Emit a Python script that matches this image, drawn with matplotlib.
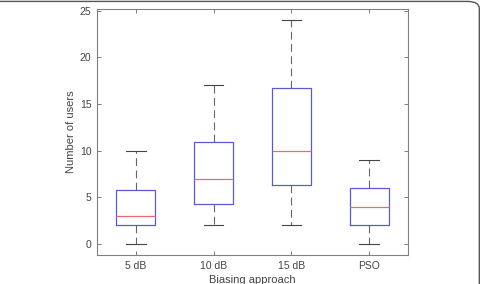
import matplotlib
matplotlib.use("Agg")
import matplotlib.pyplot as plt
from matplotlib.patches import FancyBboxPatch

plt.rcParams['font.family'] = ['Liberation Sans', 'DejaVu Sans']

categories = ['5 dB', '10 dB', '15 dB', 'PSO']
whisker_low = [0, 2, 2, 0]
q1 = [2, 4.27, 6.27, 2]
medians = [3, 7, 10, 4]
q3 = [5.75, 10.97, 16.7, 6]
whisker_high = [10, 17, 24, 9]

stats = []
for c, lo, a, m, b, hi in zip(categories, whisker_low, q1, medians, q3, whisker_high):
    stats.append(dict(label=c, whislo=lo, q1=a, med=m, q3=b, whishi=hi, fliers=[]))

fig = plt.figure(figsize=(4.81, 2.84), dpi=100)
ax = fig.add_axes([97/481, 29/284, 311/481, 246/284])

ax.bxp(stats, positions=range(1, len(stats) + 1), widths=0.5,
       boxprops=dict(color='#5a5ad2', linewidth=0.9),
       medianprops=dict(color='#f06a6a', linewidth=0.9),
       whiskerprops=dict(color='#666666', linewidth=0.8, linestyle=(0, (7, 4))),
       capprops=dict(color='#444444', linewidth=0.8),
       capwidths=0.25, showfliers=False)

ax.set_xlim(0.5, 4.5)
ax.set_ylim(-1.2, 25.2)
ax.set_yticks([0, 5, 10, 15, 20, 25])
ax.set_xticks(range(1, 5))
ax.set_xticklabels(categories)
ax.tick_params(direction='in', top=True, right=True, labelsize=7.5, colors='#666666',
               labelcolor='#444444', length=3, width=0.6, pad=4)
for s in ax.spines.values():
    s.set_color('#808080')
    s.set_linewidth(0.8)
ax.set_ylabel('Number of users', fontsize=8, color='#444444', labelpad=3)
ax.set_xlabel('Biasing approach', fontsize=8, color='#444444', labelpad=3)

# outer rounded frame (top and right visible)
frame = FancyBboxPatch((-0.05, -0.2), 1.0465, 1.195, boxstyle='round,pad=0,rounding_size=0.025',
                       transform=fig.transFigure, fill=False, edgecolor='#555555',
                       linewidth=1.0, clip_on=False)
fig.patches.append(frame)

fig.savefig('out.png', dpi=100)
